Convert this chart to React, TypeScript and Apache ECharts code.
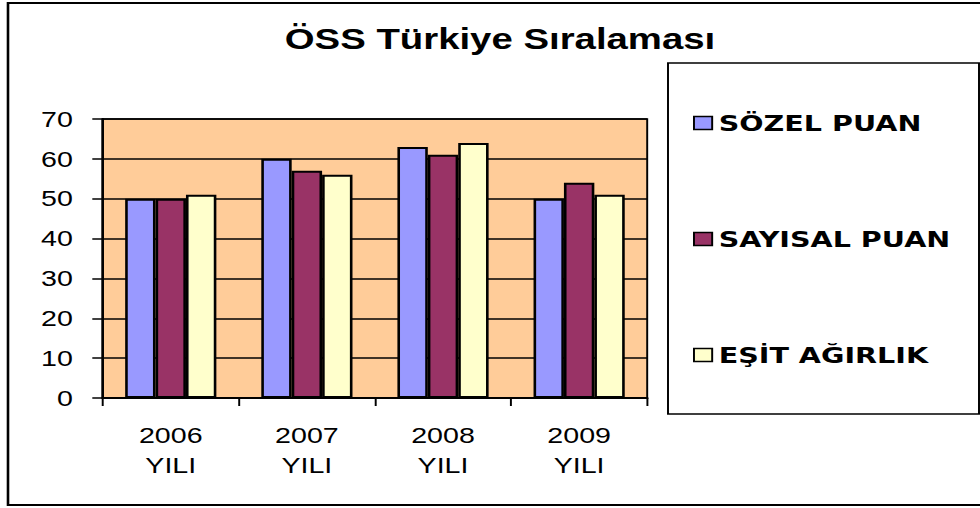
import React, { useEffect, useRef } from "react";
import * as echarts from "echarts";

const categories = ["2006\nYILI", "2007\nYILI", "2008\nYILI", "2009\nYILI"];
const seriesNames = ["SÖZEL PUAN", "SAYISAL PUAN", "EŞİT AĞIRLIK"];
const sozelPuan = [50, 60, 63, 50];
const sayisalPuan = [50, 57, 61, 54];
const esitAgirlik = [51, 56, 64, 51];
const yTicks = [0, 10, 20, 30, 40, 50, 60, 70];
const titleText = "ÖSS Türkiye Sıralaması";

const S = 1.3; // horizontal stretch of the reference picture
const W = 980 / S;
const H = 508;
const px = (x: number) => x / S;

export default function App() {
  const ref = useRef<HTMLDivElement>(null);
  useEffect(() => {
    document.body.style.margin = "0";
    document.body.style.overflow = "hidden";
    const chart = echarts.init(ref.current!, undefined, { renderer: "svg" });
    const colors = ["#9999FF", "#993366", "#FFFFCC"];
    const values = [sozelPuan, sayisalPuan, esitAgirlik];
    chart.setOption({
      animation: false,
      backgroundColor: "#ffffff",
      graphic: [
        {
          type: "rect",
          shape: { x: px(8), y: 3, width: px(982 - 8), height: 502 },
          style: { fill: "none", stroke: "#000", lineWidth: 2 },
          silent: true,
        },
        {
          type: "rect",
          shape: { x: px(668), y: 63, width: px(979 - 668), height: 351 },
          style: { fill: "#fff", stroke: "#000", lineWidth: 1.5 },
          silent: true,
          z: -1,
        },
        {
          type: "text",
          x: px(500),
          y: 38.5,
          style: {
            text: titleText,
            fontFamily: "'Liberation Sans', Arial, sans-serif",
            fontWeight: "bold",
            fontSize: 29.5,
            fill: "#000",
            textAlign: "center",
            textVerticalAlign: "middle",
          },
        },
      ],
      legend: {
        orient: "vertical",
        left: px(693),
        top: 112,
        padding: 0,
        itemGap: 94,
        itemWidth: 14,
        itemHeight: 13,
        icon: "rect",
        itemStyle: { borderColor: "#000", borderWidth: 1.5 },
        textStyle: {
          fontFamily: "'DejaVu Sans', Verdana, sans-serif",
          fontWeight: "bold",
          fontSize: 22,
          color: "#000",
        },
        data: seriesNames,
      },
      grid: {
        left: px(102.7),
        right: W - px(647),
        top: 119,
        bottom: H - 398,
        show: true,
        backgroundColor: "#FFCC99",
        borderColor: "#000",
        borderWidth: 1.5,
        containLabel: false,
      },
      xAxis: {
        type: "category",
        data: categories,
        axisLine: { lineStyle: { color: "#000", width: 2 } },
        axisTick: { show: true, length: 8, lineStyle: { color: "#000", width: 1.5 } },
        axisLabel: {
          margin: 22,
          color: "#000",
          fontFamily: "'Liberation Sans', Arial, sans-serif",
          fontSize: 22,
          lineHeight: 30,
        },
      },
      yAxis: {
        type: "value",
        min: yTicks[0],
        max: yTicks[yTicks.length - 1],
        interval: 10,
        axisLine: { show: true, lineStyle: { color: "#000", width: 2 } },
        axisTick: { show: true, length: 8, lineStyle: { color: "#000", width: 1.5 } },
        axisLabel: {
          margin: 23,
          color: "#000",
          fontFamily: "'Liberation Sans', Arial, sans-serif",
          fontSize: 22,
        },
        splitLine: { show: true, lineStyle: { color: "#000", width: 1.5 } },
      },
      series: seriesNames.map((name, i) => ({
        name,
        type: "bar",
        data: values[i],
        barGap: "0%",
        barCategoryGap: "33%",
        itemStyle: { color: colors[i], borderColor: "#000", borderWidth: 2 },
      })),
    });
    return () => chart.dispose();
  }, []);
  return (
    <div
      ref={ref}
      style={{
        width: W,
        height: H,
        transform: `scaleX(${S})`,
        transformOrigin: "0 0",
      }}
    />
  );
}
